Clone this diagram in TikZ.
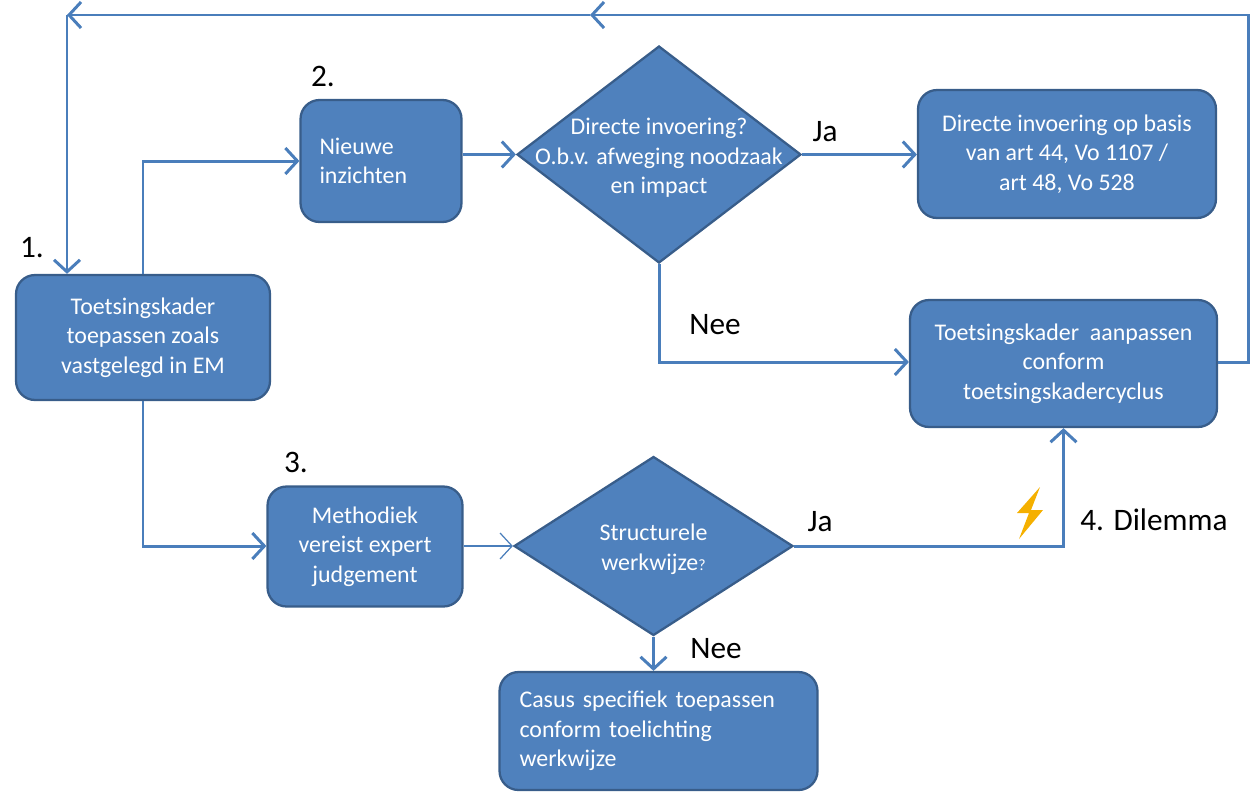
\documentclass[tikz,border=0pt]{standalone}
\usepackage{fontspec}
\setmainfont{Carlito}
\usetikzlibrary{shapes.geometric, arrows.meta}
\definecolor{boxfill}{HTML}{4F81BD}
\definecolor{boxline}{HTML}{385D8A}
\definecolor{linecol}{HTML}{4A7EBB}
\definecolor{boltcol}{HTML}{F5B000}
\tikzset{
  stepbox/.style = {draw=boxline, line width=1.3pt, fill=boxfill, rounded corners=0.38cm,
                    text=white, align=center, font=\fontsize{13.6}{16.9}\selectfont, inner sep=0pt},
  decision/.style = {draw=boxline, line width=1.3pt, fill=boxfill, diamond, inner sep=0pt},
  dtext/.style = {text=white, align=center, font=\fontsize{13.6}{16.9}\selectfont},
  conn/.style = {draw=linecol, line width=1.7pt, -{Straight Barb[length=2.4mm,width=5.2mm]}},
  thinconn/.style = {draw=linecol, line width=0.7pt, -{Straight Barb[length=2.4mm,width=5.2mm]}},
  lbl/.style = {text=black, font=\fontsize{17.8}{21}\selectfont}
}
\begin{document}
\begin{tikzpicture}[x=0.02cm, y=-0.02cm]
	\useasboundingbox (0,0) rectangle (1250,792);
	\node [stepbox, minimum width=5.08cm, minimum height=2.5cm] (toepassen) at (143,337.5)
	      {Toetsingskader\\toepassen zoals\\vastgelegd in EM};
	\node [stepbox, minimum width=3.22cm, minimum height=2.44cm, text width=2.46cm, align=left] (inzichten) at (381,161)
	      {Nieuwe\\inzichten};
	\node [decision, minimum width=5.68cm, minimum height=4.34cm] (invoering) at (659,154.5) {};
	\node [dtext] (invoeringtxt) at (659,158) {Directe invoering?\\O.b.v. afweging noodzaak\\en impact};
	\node [stepbox, minimum width=5.96cm, minimum height=2.56cm] (direct) at (1067,154)
	      {Directe invoering op basis\\van art 44, Vo 1107 /\\art 48, Vo 528};
	\node [stepbox, minimum width=6.14cm, minimum height=2.54cm] (aanpassen) at (1063.5,363.5)
	      {Toetsingskader~ aanpassen\\conform\\toetsingskadercyclus};
	\node [stepbox, minimum width=3.9cm, minimum height=2.4cm] (methodiek) at (365,546.5)
	      {Methodiek\\vereist expert\\judgement};
	\node [decision, minimum width=5.58cm, minimum height=3.58cm] (structureel) at (653.5,546) {};
	\node [dtext] (structureeltxt) at (653.5,549) {Structurele\\werkwijze{\fontsize{9}{10}\selectfont ?}};
	\node [stepbox, minimum width=6.36cm, minimum height=2.36cm, text width=5.56cm, align=left] (casus) at (658.5,731)
	      {Casus specifiek toepassen\\conform toelichting\\werkwijze};
	\coordinate (hoekR) at (1248,15);
	\coordinate (midden) at (590,15);
	\coordinate (hoekL) at (67,15);
	\draw [conn] (toepassen.north) |- (inzichten.west);
	\draw [conn] (inzichten.east |- invoering.west) -- (invoering.west);
	\draw [conn] (invoering.east) -- (direct.west |- invoering.east);
	\draw [conn] (invoering.south) |- (aanpassen.west |- 0,362);
	\draw [conn] (aanpassen.east |- 0,362) -| (hoekR) -- (midden);
	\draw [conn] (midden) -- (hoekL);
	\draw [conn] (hoekL) -- (hoekL |- toepassen.north);
	\draw [conn] (toepassen.south) |- (methodiek.west |- structureel.west);
	\draw [thinconn] (methodiek.east |- structureel.west) -- (structureel.west);
	\draw [conn] (structureel.east) -| (aanpassen.south);
	\draw [conn] (structureel.south) -- (structureel.south |- casus.north);
	\fill [boltcol] (1040,487) -- (1017,513) -- (1029,513) -- (1019,539) -- (1043,510) -- (1031,510) -- cycle;
	\node [lbl] (een) at (32,248) {1.};
	\node [lbl] (twee) at (323,76) {2.};
	\node [lbl] (drie) at (296,462) {3.};
	\node [lbl] (jaboven) at (825,132) {Ja};
	\node [lbl] (neeboven) at (715,325) {Nee};
	\node [lbl] (jaonder) at (820,522) {Ja};
	\node [lbl] (neeonder) at (716,649) {Nee};
	\node [lbl] (dilemma) at (1154,520) {4. Dilemma};
\end{tikzpicture}
\end{document}
